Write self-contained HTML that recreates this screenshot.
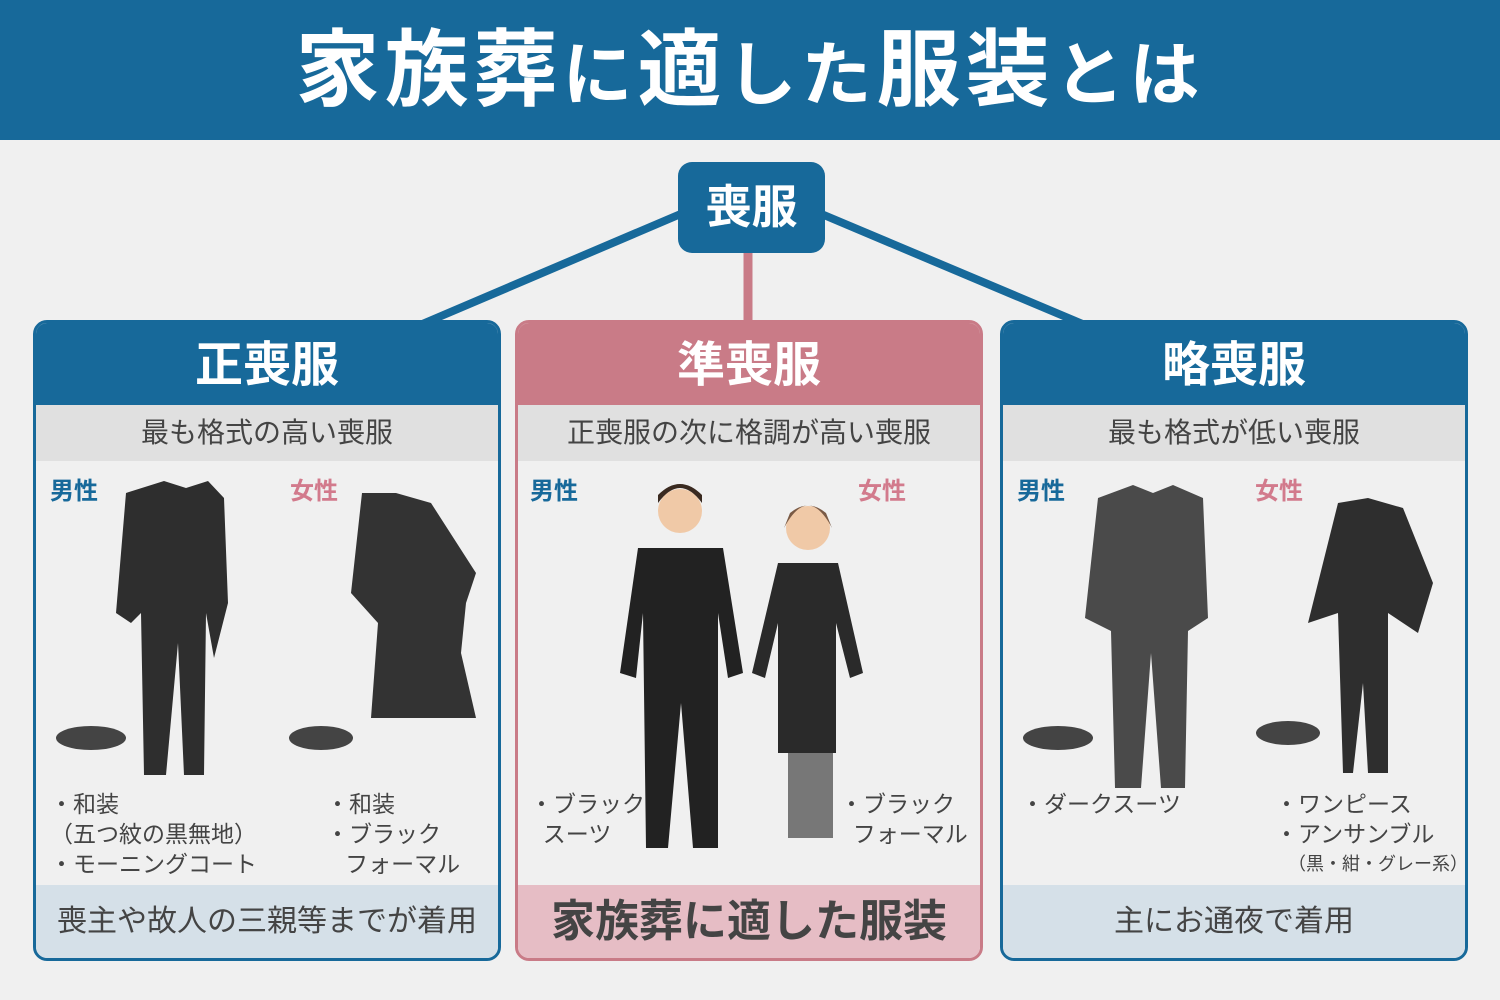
<!DOCTYPE html>
<html><head><meta charset="utf-8"><style>
body{margin:0;width:1500px;height:1000px;background:#f0f0f0;font-family:"Liberation Sans","Noto Sans CJK JP",sans-serif;position:relative;overflow:hidden}
.top{position:absolute;left:0;top:0;width:1500px;height:140px;background:#17699a;color:#fff;font-weight:bold;font-size:84px;text-align:center;line-height:140px;letter-spacing:5px}
.top small{font-size:70px}
.node{position:absolute;left:678px;top:162px;width:147px;height:91px;background:#17699a;border-radius:14px;color:#fff;font-weight:bold;font-size:46px;text-align:center;line-height:91px}
.p{position:absolute;top:320px;width:462px;height:635px;border:3px solid #17699a;border-radius:14px;overflow:hidden;background:#f0f0f0}
.h{height:82px;background:#17699a;color:#fff;font-weight:bold;font-size:48px;text-align:center;line-height:86px}
.s{height:56px;background:#e0e0e0;color:#444;font-size:28px;text-align:center;line-height:56px}
.f{position:absolute;left:0;bottom:0;width:100%;height:73px;background:#d5e0e8;color:#444;font-size:30px;text-align:center;line-height:73px}
.pink{border-color:#c97b87}.pink .h{background:#c97b87}.pink .f{background:#e6bdc5;font-weight:bold;font-size:44px}
.m{position:absolute;top:148px;font-weight:bold;font-size:24px;color:#17699a}
.w{position:absolute;top:148px;font-weight:bold;font-size:24px;color:#d27a8c}
.t{position:absolute;color:#444;font-size:23px;line-height:30px;white-space:pre}
svg.c{position:absolute;left:0;top:0}
</style></head><body>
<div class="top">家族葬<small>に</small>適<small>した</small>服装<small>とは</small></div>
<svg width="1500" height="1000" style="position:absolute;left:0;top:0">
<line x1="690" y1="210" x2="420" y2="325" stroke="#17699a" stroke-width="8"/>
<line x1="812" y1="210" x2="1085" y2="325" stroke="#17699a" stroke-width="8"/>
<line x1="748" y1="250" x2="748" y2="325" stroke="#c97b87" stroke-width="9"/>
</svg>
<div class="node">喪服</div>

<div class="p" style="left:33px">
<div class="h">正喪服</div><div class="s">最も格式の高い喪服</div>
<svg class="c" width="462" height="635">
<path d="M90 170 L128 158 L150 165 L172 158 L188 175 L192 280 L178 335 L170 290 L168 452 L148 452 L142 320 L130 452 L108 452 L105 290 L95 300 L80 290 Z" fill="#2e2e2e"/>
<path d="M326 170 L360 170 L395 180 L440 250 L430 280 L425 330 L440 395 L335 395 L342 300 L315 270 Z" fill="#333"/>
<ellipse cx="55" cy="415" rx="35" ry="12" fill="#444"/><ellipse cx="285" cy="415" rx="32" ry="12" fill="#444"/>
</svg>
<div class="m" style="left:14px">男性</div><div class="w" style="left:254px">女性</div>
<div class="t" style="left:14px;top:466px">・和装
（五つ紋の黒無地）
・モーニングコート</div>
<div class="t" style="left:290px;top:466px">・和装
・ブラック
   フォーマル</div>
<div class="f">喪主や故人の三親等までが着用</div></div>

<div class="p pink" style="left:515px">
<div class="h">準喪服</div><div class="s">正喪服の次に格調が高い喪服</div>
<svg class="c" width="462" height="635">
<circle cx="162" cy="188" r="22" fill="#f0c9a7"/><path d="M140 180 Q162 150 184 180 L184 172 Q162 150 140 172Z" fill="#3a2a20"/>
<path d="M120 225 L205 225 L225 350 L210 355 L200 290 L200 525 L175 525 L163 380 L150 525 L128 525 L125 290 L118 355 L102 350 Z" fill="#222"/>
<circle cx="290" cy="205" r="22" fill="#f0c9a7"/><path d="M266 205 Q290 160 314 205 L308 190 Q290 175 272 190Z" fill="#7a5a45"/>
<path d="M260 240 L320 240 L345 350 L332 355 L318 300 L318 430 L260 430 L260 300 L247 355 L234 350 Z" fill="#2a2a2a"/>
<rect x="270" y="430" width="45" height="85" fill="#777"/>
</svg>
<div class="m" style="left:12px">男性</div><div class="w" style="left:340px">女性</div>
<div class="t" style="left:12px;top:466px">・ブラック
  スーツ</div>
<div class="t" style="left:322px;top:466px">・ブラック
  フォーマル</div>
<div class="f">家族葬に適した服装</div></div>

<div class="p" style="left:1000px">
<div class="h">略喪服</div><div class="s">最も格式が低い喪服</div>
<svg class="c" width="462" height="635">
<path d="M95 175 L130 162 L150 170 L170 162 L200 175 L205 295 L185 308 L182 465 L158 465 L148 330 L138 465 L112 465 L108 308 L82 295 Z" fill="#4a4a4a"/>
<path d="M335 180 L365 175 L400 185 L430 260 L415 310 L385 290 L385 450 L365 450 L360 360 L350 450 L340 450 L335 290 L305 300 Z" fill="#2e2e2e"/>
<ellipse cx="55" cy="415" rx="35" ry="12" fill="#444"/><ellipse cx="285" cy="410" rx="32" ry="12" fill="#444"/>
</svg>
<div class="m" style="left:14px">男性</div><div class="w" style="left:252px">女性</div>
<div class="t" style="left:18px;top:466px">・ダークスーツ</div>
<div class="t" style="left:272px;top:466px">・ワンピース
・アンサンブル</div>
<div class="t" style="left:285px;top:526px;font-size:18px">（黒・紺・グレー系）</div>
<div class="f">主にお通夜で着用</div></div>
</body></html>
